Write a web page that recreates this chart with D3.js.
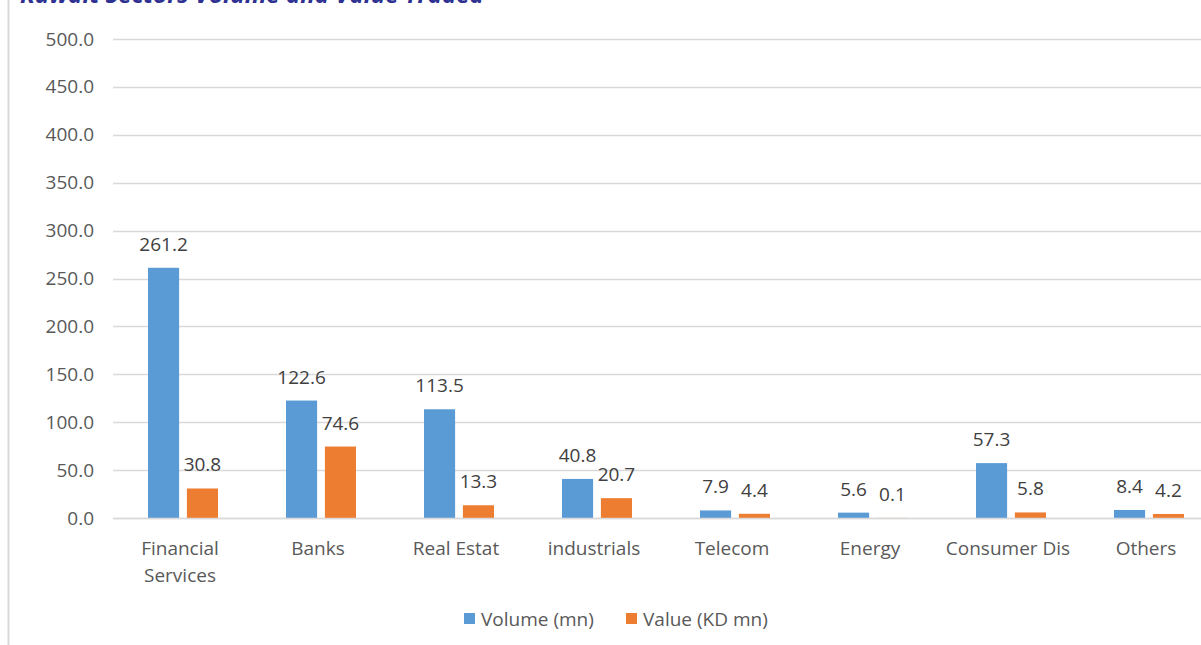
<!DOCTYPE html>
<html>
<head>
<meta charset="utf-8">
<script src="https://cdn.jsdelivr.net/npm/d3@7"></script>
<style>
  body { margin: 0; background: #fff; }
  svg { display: block; font-family: "Open Sans", "Noto Sans", sans-serif; }
</style>
</head>
<body>
<svg id="chart"></svg>
<script>
const sectors = ["Financial Services", "Banks", "Real Estat", "industrials", "Telecom", "Energy", "Consumer Dis", "Others"];
const volume = [261.2, 122.6, 113.5, 40.8, 7.9, 5.6, 57.3, 8.4];
const value = [30.8, 74.6, 13.3, 20.7, 4.4, 0.1, 5.8, 4.2];
const seriesNames = ["Volume (mn)", "Value (KD mn)"];
const colors = ["#5b9bd5", "#ed7d31"];
const yTicks = [0, 50, 100, 150, 200, 250, 300, 350, 400, 450, 500];

const width = 1201, height = 645;
const fs = 19;
const svg = d3.select("#chart").attr("width", width).attr("height", height);

// left frame line
svg.append("line")
   .attr("x1", 8.5).attr("x2", 8.5).attr("y1", 0).attr("y2", height)
   .attr("stroke", "#d9d9d9").attr("stroke-width", 2);

// title (cropped at the top like the source)
svg.append("text")
   .attr("x", 20).attr("y", 3)
   .attr("font-size", 24).attr("font-weight", "bold").attr("font-style", "italic")
   .attr("fill", "#2e3192")
   .text("Kuwait Sectors Volume and Value Traded");

const x0 = d3.scaleBand().domain(sectors).range([111, 1215]);
const x1 = d3.scaleBand().domain(seriesNames).range([37, 107]).paddingInner(0.2);
const y = d3.scaleLinear().domain([0, 500]).range([518, 39]);

// gridlines
svg.append("g").selectAll("line").data(yTicks).join("line")
   .attr("x1", 113).attr("x2", width)
   .attr("y1", d => Math.round(y(d)) + 0.5).attr("y2", d => Math.round(y(d)) + 0.5)
   .attr("stroke", "#d9d9d9").attr("stroke-width", 1.3);

// y axis labels
const yAxis = d3.axisLeft(y).tickValues(yTicks).tickFormat(d3.format(".1f")).tickSize(0).tickPadding(0);
const yg = svg.append("g").attr("transform", "translate(94,0)").call(yAxis);
yg.select(".domain").remove();
yg.selectAll("text").attr("font-size", fs).attr("fill", "#595959").attr("font-family", "Open Sans, sans-serif");

const rows = sectors.map((s, i) => ({ sector: s, vals: [volume[i], value[i]] }));

const groups = svg.append("g").selectAll("g").data(rows).join("g")
   .attr("transform", d => `translate(${x0(d.sector)},0)`);

groups.selectAll("rect").data(d => d.vals.map((v, j) => ({ key: seriesNames[j], v, j })))
   .join("rect")
   .attr("x", d => x1(d.key))
   .attr("width", x1.bandwidth())
   .attr("y", d => y(d.v))
   .attr("height", d => y(0) - y(d.v))
   .attr("fill", d => colors[d.j]);

groups.selectAll("text.lbl").data(d => d.vals.map((v, j) => ({ key: seriesNames[j], v, j })))
   .join("text")
   .attr("class", "lbl")
   .attr("x", d => x1(d.key) + x1.bandwidth() / 2)
   .attr("y", d => y(d.v) - 17)
   .attr("text-anchor", "middle")
   .attr("font-size", fs).attr("fill", "#404040")
   .text(d => d.v.toFixed(1));

// baseline
svg.append("line")
   .attr("x1", 113).attr("x2", width).attr("y1", y(0) + 0.5).attr("y2", y(0) + 0.5)
   .attr("stroke", "#d9d9d9").attr("stroke-width", 1.5);

// x labels
const xl = svg.append("g").selectAll("text").data(sectors).join("text")
   .attr("x", d => x0(d) + x0.bandwidth() / 2)
   .attr("y", 555)
   .attr("text-anchor", "middle")
   .attr("font-size", fs).attr("fill", "#595959");
xl.each(function (d) {
  const parts = d === "Financial Services" ? ["Financial", "Services"] : [d];
  d3.select(this).selectAll("tspan").data(parts).join("tspan")
    .attr("x", x0(d) + x0.bandwidth() / 2)
    .attr("dy", (p, i) => i === 0 ? 0 : 27)
    .text(p => p);
});

// legend
const legendX = [464, 626];
const lg = svg.append("g").selectAll("g").data(seriesNames).join("g")
   .attr("transform", (d, i) => `translate(${legendX[i]},613)`);
lg.append("rect").attr("width", 11).attr("height", 11).attr("fill", (d, i) => colors[i]);
lg.append("text").attr("x", 17).attr("y", 12.5)
   .attr("font-size", fs).attr("fill", "#595959").text(d => d);
</script>
</body>
</html>
